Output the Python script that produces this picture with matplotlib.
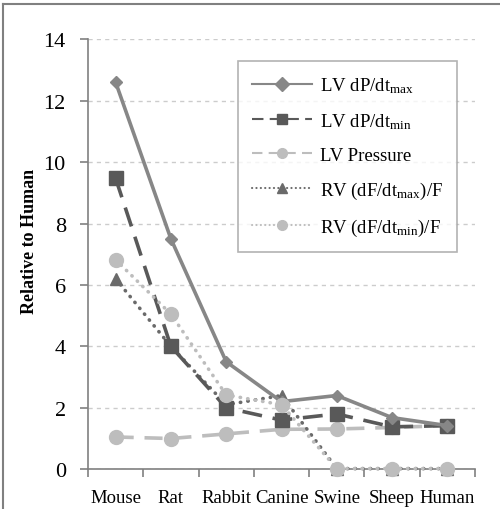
import matplotlib
matplotlib.use('Agg')
from matplotlib import pyplot as plt
from matplotlib.lines import Line2D

plt.rcParams['font.family'] = ['Liberation Serif', 'DejaVu Serif']
plt.rcParams['mathtext.fontset'] = 'custom'
plt.rcParams['mathtext.rm'] = 'Liberation Serif'
plt.rcParams['mathtext.it'] = 'Liberation Serif:italic'

species = ['Mouse', 'Rat', 'Rabbit', 'Canine', 'Swine', 'Sheep', 'Human']
lv_dpdt_max = [12.6, 7.5, 3.5, 2.2, 2.4, 1.68, 1.42]
lv_dpdt_min = [9.47, 4.0, 2.0, 1.6, 1.8, 1.38, 1.42]
lv_pressure = [1.05, 1.0, 1.15, 1.3, 1.31, 1.36, 1.42]
rv_dfdt_max = [6.2, 4.0, 2.1, 2.4, 0.02, 0.02, 0.02]
rv_dfdt_min = [6.82, 5.05, 2.42, 2.1, 0.02, 0.02, 0.02]

fig = plt.figure(figsize=(5.0, 5.1), dpi=100)
ax = fig.add_axes([0.176, 0.078, 0.774, 0.843])

x = list(range(len(species)))
dots = (0, (0.1, 2.0))

ax.plot(x, lv_dpdt_max, color='#878787', lw=2.6, marker='D', ms=6.5,
        label=r'LV dP/dt$_{\rm max}$', clip_on=False, zorder=5)
ax.plot(x, lv_dpdt_min, color='#595959', lw=2.6, ls=(0, (5.5, 3)), marker='s', ms=9.5,
        label=r'LV dP/dt$_{\rm min}$', clip_on=False, zorder=4)
ax.plot(x, lv_pressure, color='#bdbdbd', lw=2.6, ls=(0, (5, 3)), marker='o', ms=10,
        label='LV Pressure', clip_on=False, zorder=3)
ax.plot(x, rv_dfdt_max, color='#6a6a6a', lw=2.6, ls=dots, dash_capstyle='round',
        marker='^', ms=8, label=r'RV (dF/dt$_{\rm max}$)/F', clip_on=False, zorder=3)
ax.plot(x, rv_dfdt_min, color='#bdbdbd', lw=2.6, ls=dots, dash_capstyle='round',
        marker='o', ms=10, label=r'RV (dF/dt$_{\rm min}$)/F', clip_on=False, zorder=6)

ax.set_xlim(-0.5, len(species) - 0.5)
ax.set_ylim(0, 14)
ax.set_yticks(range(0, 15, 2))
ax.set_xticks(x)
ax.set_xticklabels(species, fontsize=13.5)
ax.set_xticks([i - 0.5 for i in range(len(species) + 1)], minor=True)
ax.tick_params(axis='x', which='major', length=0, pad=14)
ax.tick_params(axis='x', which='minor', length=6, color='#808080', width=1.2)
ax.tick_params(axis='y', labelsize=16, length=6, color='#808080', width=1.2, pad=10)

for s in ['top', 'right']:
    ax.spines[s].set_visible(False)
for s in ['left', 'bottom']:
    ax.spines[s].set_color('#808080')
    ax.spines[s].set_linewidth(1.2)

ax.yaxis.grid(True, color='#cccccc', ls=(0, (3, 3)), lw=1)
ax.set_axisbelow(True)
ax.set_ylabel('Relative to Human', fontsize=13, fontweight='bold')
ax.yaxis.set_label_coords(-0.128, 0.533)

leg = ax.legend(loc='upper left', bbox_to_anchor=(0.388, 0.949), fontsize=13.5,
                frameon=True, fancybox=False, edgecolor='#a0a0a0', handlelength=3.2,
                labelspacing=0.85, borderpad=0.75, handletextpad=0.4, borderaxespad=0)
leg.get_frame().set_linewidth(1.2)
for h in leg.legend_handles:
    h.set_linewidth(1.5)
    h.set_markersize(7)

fig.add_artist(Line2D([0.006, 0.006], [0.0, 0.99], color='#808080', lw=1.5))
fig.add_artist(Line2D([0.006, 1.0], [0.99, 0.99], color='#808080', lw=1.5))

fig.savefig('out.png', dpi=100)
